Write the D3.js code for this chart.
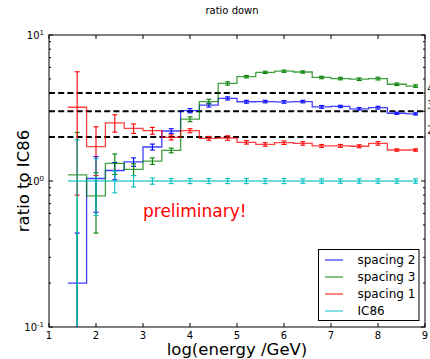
<!DOCTYPE html>
<html>
<head>
<meta charset="utf-8">
<script src="https://cdn.jsdelivr.net/npm/d3@7"></script>
<style>
  html, body { margin: 0; padding: 0; background: #fff; }
  svg { display: block; font-family: "DejaVu Sans", sans-serif; }
</style>
</head>
<body>
<svg id="chart" width="430" height="359"></svg>
<script>
// Histogram bins in log10(E/GeV)
const binCenters = [1.6, 2.0, 2.4, 2.8, 3.2, 3.6, 4.0, 4.4, 4.8, 5.2, 5.6, 6.0, 6.4, 6.8, 7.2, 7.6, 8.0, 8.4, 8.8];
const binEdges   = [1.4, 1.8, 2.2, 2.6, 3.0, 3.4, 3.8, 4.2, 4.6, 5.0, 5.4, 5.8, 6.2, 6.6, 7.0, 7.4, 7.8, 8.2, 8.6, 8.85];

// Ratios to IC86 and their uncertainties
const spacing2    = [0.2, 1.04, 1.18, 1.35, 1.71, 2.2, 3.03, 3.31, 3.68, 3.49, 3.5, 3.48, 3.5, 3.22, 3.24, 3.12, 3.18, 2.91, 2.88];
const spacing2Err = [0.24, 0.43, 0.16, 0.09, 0.08, 0.08, 0.1, 0.1, 0.09, 0.08, 0.07, 0.07, 0.07, 0.07, 0.06, 0.06, 0.07, 0.05, 0.05];
const spacing3    = [1.1, 0.79, 1.32, 1.2, 1.37, 1.62, 2.65, 3.5, 4.66, 5.18, 5.55, 5.65, 5.58, 5.12, 5.03, 4.98, 5.03, 4.6, 4.47];
const spacing3Err = [1.05, 0.35, 0.21, 0.11, 0.07, 0.06, 0.1, 0.13, 0.12, 0.1, 0.1, 0.1, 0.1, 0.1, 0.1, 0.1, 0.11, 0.09, 0.09];
const spacing1    = [3.2, 1.72, 2.5, 2.29, 2.21, 1.99, 2.21, 1.96, 1.97, 1.84, 1.78, 1.83, 1.81, 1.74, 1.74, 1.73, 1.81, 1.63, 1.63];
const spacing1Err = [2.4, 0.63, 0.34, 0.17, 0.12, 0.08, 0.07, 0.06, 0.07, 0.05, 0.05, 0.05, 0.05, 0.04, 0.04, 0.04, 0.05, 0.03, 0.03];
const ic86        = [1, 1, 1, 1, 1, 1, 1, 1, 1, 1, 1, 1, 1, 1, 1, 1, 1, 1, 1];
const ic86Err     = [0.91, 0.42, 0.17, 0.09, 0.05, 0.04, 0.04, 0.04, 0.04, 0.04, 0.04, 0.04, 0.035, 0.035, 0.035, 0.035, 0.035, 0.035, 0.035];

const seriesNames  = ["spacing 2", "spacing 3", "spacing 1", "IC86"];
const seriesColors = ["#0000ff", "#008000", "#ff0000", "#00bfbf"];

// Reference ratio lines
const refLines  = [4, 3, 2];
const refLabels = ["4", "3", "2"];

const xTicks = [1, 2, 3, 4, 5, 6, 7, 8, 9];
const yMajor = [0.1, 1, 10];
const yMajorLabels = [["10", "-1"], ["10", "0"], ["10", "1"]];

const titleText = "ratio down";
const xLabel = "log(energy /GeV)";
const yLabel = "ratio to IC86";
const noteText = "preliminary!";

const series = [
  { name: seriesNames[0], color: seriesColors[0], values: spacing2, errs: spacing2Err },
  { name: seriesNames[1], color: seriesColors[1], values: spacing3, errs: spacing3Err },
  { name: seriesNames[2], color: seriesColors[2], values: spacing1, errs: spacing1Err },
  { name: seriesNames[3], color: seriesColors[3], values: ic86, errs: ic86Err }
];

const svg = d3.select("#chart");
const L = 49, R = 425, T = 35, B = 327;

const x = d3.scaleLinear().domain([1, 9]).range([L, R]);
const y = d3.scaleLog().domain([0.1, 10]).range([B, T]);

svg.append("defs").append("clipPath").attr("id", "plotClip")
  .append("rect").attr("x", L).attr("y", T).attr("width", R - L).attr("height", B - T);

const plot = svg.append("g").attr("clip-path", "url(#plotClip)");

// Dashed reference levels
plot.selectAll("line.ref").data(refLines).enter().append("line")
  .attr("class", "ref")
  .attr("x1", L).attr("x2", R)
  .attr("y1", d => y(d)).attr("y2", d => y(d))
  .attr("stroke", "#000").attr("stroke-width", 2)
  .attr("stroke-dasharray", "6,3.2");

// Step histograms with error bars
const stepLine = d3.line()
  .x(d => x(d[0])).y(d => y(d[1]))
  .curve(d3.curveStepAfter);

series.forEach(s => {
  const pts = binEdges.map((e, i) => [e, s.values[Math.min(i, s.values.length - 1)]]);
  plot.append("path")
    .attr("d", stepLine(pts))
    .attr("fill", "none")
    .attr("stroke", s.color)
    .attr("stroke-width", 1.3)
    .attr("stroke-opacity", 0.75);

  const g = plot.append("g").attr("stroke", s.color).attr("stroke-width", 1.1);
  binCenters.forEach((c, i) => {
    const v = s.values[i], e = s.errs[i];
    const hi = v + e;
    const lo = Math.max(v - e, 0.02);
    const cx = x(c);
    g.append("line").attr("x1", cx).attr("x2", cx).attr("y1", y(lo)).attr("y2", y(hi));
    g.append("line").attr("x1", cx - 2.5).attr("x2", cx + 2.5).attr("y1", y(hi)).attr("y2", y(hi));
    if (v - e > 0) {
      g.append("line").attr("x1", cx - 2.5).attr("x2", cx + 2.5).attr("y1", y(lo)).attr("y2", y(lo));
    }
  });
});

// Frame
svg.append("rect")
  .attr("x", L).attr("y", T).attr("width", R - L).attr("height", B - T)
  .attr("fill", "none").attr("stroke", "#000").attr("stroke-width", 1);

// x ticks (inward, bottom and top)
const xt = svg.append("g").attr("stroke", "#000").attr("stroke-width", 1);
xTicks.forEach(t => {
  xt.append("line").attr("x1", x(t)).attr("x2", x(t)).attr("y1", B).attr("y2", B - 4);
  xt.append("line").attr("x1", x(t)).attr("x2", x(t)).attr("y1", T).attr("y2", T + 4);
});
svg.append("g").selectAll("text").data(xTicks).enter().append("text")
  .attr("x", d => x(d)).attr("y", B + 12)
  .attr("text-anchor", "middle").attr("font-size", 10).attr("fill", "#000")
  .text(d => d);

// y ticks: decades and minor ticks on both sides
const yMinor = [];
[0.1, 1].forEach(dec => { for (let k = 2; k <= 9; k++) yMinor.push(dec * k); });
const yt = svg.append("g").attr("stroke", "#000").attr("stroke-width", 1);
yMajor.forEach(t => {
  yt.append("line").attr("x1", L).attr("x2", L + 4).attr("y1", y(t)).attr("y2", y(t));
  yt.append("line").attr("x1", R).attr("x2", R - 4).attr("y1", y(t)).attr("y2", y(t));
});
yMinor.forEach(t => {
  yt.append("line").attr("x1", L).attr("x2", L + 2).attr("y1", y(t)).attr("y2", y(t));
  yt.append("line").attr("x1", R).attr("x2", R - 2).attr("y1", y(t)).attr("y2", y(t));
});
yMajor.forEach((t, i) => {
  const txt = svg.append("text")
    .attr("x", L - 5).attr("y", y(t) + 3.5)
    .attr("text-anchor", "end").attr("font-size", 10).attr("fill", "#000");
  txt.append("tspan").text(yMajorLabels[i][0]);
  txt.append("tspan").attr("font-size", 7).attr("dy", -4).text(yMajorLabels[i][1]);
});

// Labels of the reference levels, just past the right edge
svg.selectAll("text.reflabel").data(refLines).enter().append("text")
  .attr("class", "reflabel")
  .attr("x", x(9) + 2).attr("y", d => y(d + 0.1))
  .attr("font-size", 12).attr("fill", "#333")
  .text((d, i) => refLabels[i]);

// Title and axis labels
svg.append("text").attr("x", 232).attr("y", 13.5)
  .attr("text-anchor", "middle").attr("font-size", 10).attr("fill", "#000")
  .text(titleText);
svg.append("text").attr("x", (L + R) / 2).attr("y", 355)
  .attr("text-anchor", "middle").attr("font-size", 16.5).attr("fill", "#000")
  .text(xLabel);
svg.append("text")
  .attr("transform", `translate(28.5,${(T + B) / 2}) rotate(-90)`)
  .attr("text-anchor", "middle").attr("font-size", 16.5).attr("fill", "#000")
  .text(yLabel);

svg.append("text").attr("x", 143).attr("y", 217)
  .attr("font-size", 17).attr("fill", "#ff0000")
  .text(noteText);

// Legend
const lg = svg.append("g");
lg.append("rect").attr("x", 318.5).attr("y", 249.5).attr("width", 100.5).attr("height", 71)
  .attr("fill", "#fff").attr("stroke", "#000").attr("stroke-width", 1);
series.forEach((s, i) => {
  const ry = 260 + i * 17;
  lg.append("line").attr("x1", 325).attr("x2", 343).attr("y1", ry).attr("y2", ry)
    .attr("stroke", s.color).attr("stroke-width", 1.3).attr("stroke-opacity", 0.75);
  lg.append("text").attr("x", 357.5).attr("y", ry + 4.3)
    .attr("font-size", 12).attr("fill", "#000").text(s.name);
});
</script>
</body>
</html>
